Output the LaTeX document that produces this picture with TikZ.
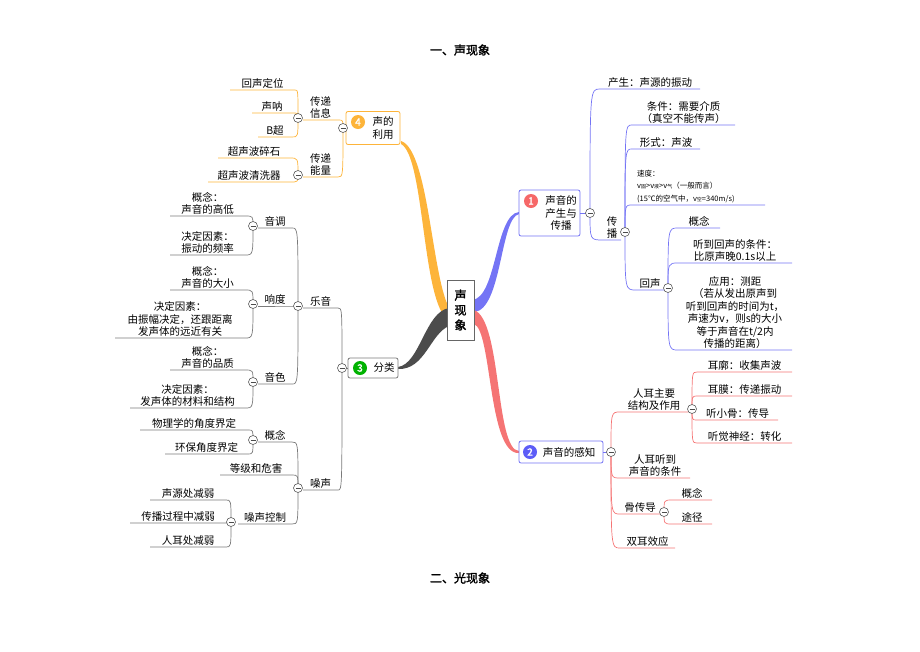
\documentclass[tikz,border=0pt]{standalone}
\usepackage{fontspec}
\setmainfont[AutoFakeBold=2]{Noto Sans CJK SC}
\usetikzlibrary{calc}
\definecolor{cb}{HTML}{7474F5}
\definecolor{cp}{HTML}{F57474}
\definecolor{co}{HTML}{FDB43A}
\definecolor{cg}{HTML}{7A7A7A}
\tikzset{
 lf/.style={inner sep=1.2pt,align=center,font=\fontsize{10.5}{12.5}\selectfont},
 cc/.style={circle,draw=black!65,fill=white,inner sep=0pt,minimum size=9pt,line width=0.6pt,
   path picture={\draw[black!70,line width=0.8pt] ([xshift=2pt]path picture bounding box.west) -- ([xshift=-2pt]path picture bounding box.east);}},
 bx/.style={draw=#1,rounded corners=2pt,fill=white,line width=0.8pt},
 num/.style={circle,fill=#1,text=white,inner sep=0pt,minimum size=14pt,font=\bfseries\fontsize{10}{10}\selectfont},
 bt/.style={align=center,font=\fontsize{10.5}{12.5}\selectfont,inner sep=0pt},
}
\newcommand\RL[7]{%
 \coordinate (#2a) at (#4,#6); \coordinate (#2b) at (#5,#6);
 \node[lf,anchor=south] (#2) at ({(#4+#5)/2},#6) {#7};
 \draw[#1,line width=0.7pt] (#3) .. controls (#3|-#2a) .. (#2a) -- (#2b);}
\newcommand\LL[7]{%
 \coordinate (#2a) at (#4,#6); \coordinate (#2b) at (#5,#6);
 \node[lf,anchor=south] (#2) at ({(#4+#5)/2},#6) {#7};
 \draw[#1,line width=0.7pt] (#3) .. controls (#3|-#2b) .. (#2b) -- (#2a);}
\begin{document}
\begin{tikzpicture}[x=1pt,y=-1pt]
\useasboundingbox (0,0) rectangle (920,651);
\node[font=\bfseries\fontsize{12}{14}\selectfont] (t1) at (460,50) {一、声现象};
\node[font=\bfseries\fontsize{12}{14}\selectfont] (t2) at (460,578) {二、光现象};
% thick main branches
\fill[cb] (472,300) .. controls (497,298) and (495,214) .. (519,212) -- (519,214) .. controls (500,218) and (502,310) .. (474,312) -- cycle;
\fill[cp] (474,310) .. controls (502,320) and (495,450) .. (519,451) -- (519,453) .. controls (488,455) and (492,330) .. (474,324) -- cycle;
\fill[co] (452,312) .. controls (432,290) and (430,150) .. (401,141) -- (401,144) .. controls (424,156) and (422,295) .. (446,318) -- cycle;
\fill[black!70] (449,308) .. controls (425,312) and (420,364) .. (398,367) -- (398,369) .. controls (425,370) and (430,334) .. (449,326) -- cycle;
\node[draw=black!60,fill=white,minimum width=27pt,minimum height=60pt,align=center,font=\bfseries\fontsize{12}{15}\selectfont] (C) at (460.5,310) {声\\现\\象};
% boxes
\node[bx=cb,minimum width=61pt,minimum height=46pt] (B1) at (549.5,213) {};
\node[bt] (B1t) at (561,213) {声音的\\产生与\\传播};
\node[num=cp!90!red] (n1) at (531,201) {1};
\node[bx=cb,minimum width=84pt,minimum height=22pt] (B2) at (561,452) {};
\node[bt] (B2t) at (569,452) {声音的感知};
\node[num=cb!80!blue] (n2) at (530,452) {2};
\node[bx=co,minimum width=54pt,minimum height=33pt] (B4) at (373,128) {};
\node[bt] (B4t) at (383,128) {声的\\利用};
\node[num=co] (n4) at (358,122) {4};
\node[bx=cg,minimum width=50pt,minimum height=20pt] (B3) at (373,368) {};
\node[bt] (B3t) at (384,368) {分类};
\node[num=green!70!black] (n3) at (360,368) {3};
% collapse points
\coordinate (c1) at (590,213);
\coordinate (c11) at (625,232);
\coordinate (c12) at (668,288);
\coordinate (c2) at (611,452);
\coordinate (c21) at (692,409);
\coordinate (c22) at (664,512);
\coordinate (c4) at (343,128);
\coordinate (c41) at (298,118);
\coordinate (c42) at (298,175);
\coordinate (c3) at (342,368);
\coordinate (c31) at (298,306);
\coordinate (c311) at (253,226);
\coordinate (c312) at (253,304);
\coordinate (c313) at (253,382);
\coordinate (c32) at (298,488);
\coordinate (c321) at (253,440);
\coordinate (c322) at (231,522);
\draw[cb,line width=0.7pt] (B1) -- (c1);
\draw[cb,line width=0.7pt] (B2) -- (c2);
\draw[co,line width=0.7pt] (B4) -- (c4);
\draw[cg,line width=0.7pt] (B3) -- (c3);
% branch 1
\RL{cb}{p1}{c1}{600}{700}{89}{产生：声源的振动}
\RL{cb}{p2}{c1}{603}{621}{240}{传\\播}
\RL{cb}{p3}{c11}{632}{735}{125}{条件：需要介质\\（真空不能传声）}
\RL{cb}{p4}{c11}{632}{700}{149}{形式：声波}
\coordinate (p5a) at (632,205); \coordinate (p5b) at (765,205);
\node[anchor=south west,align=left,inner sep=1pt,font=\fontsize{7.5}{12.5}\selectfont] (p5) at (636,204) {速度：\\v{\tiny 固}>v{\tiny 液}>v{\tiny 气}（一般而言）\\(15℃的空气中，v{\tiny 空}=340m/s)};
\draw[cb,line width=0.7pt] (c11) .. controls (c11|-p5a) .. (p5a) -- (p5b);
\RL{cb}{p6}{c11}{636}{664}{290}{回声}
\RL{cb}{p7}{c12}{678}{720}{228}{概念}
\RL{cb}{p8}{c12}{678}{792}{263}{听到回声的条件：\\比原声晚0.1s以上}
\RL{cb}{p9}{c12}{678}{792}{350}{应用：测距\\（若从发出原声到\\听到回声的时间为t，\\声速为v，则s的大小\\等于声音在t/2内\\传播的距离）}
% branch 2
\RL{cp}{q1}{c2}{620}{688}{412}{人耳主要\\结构及作用}
\RL{cp}{q2}{c21}{697}{792}{372}{耳廓：收集声波}
\RL{cp}{q3}{c21}{697}{792}{396}{耳膜：传递振动}
\RL{cp}{q4}{c21}{697}{778}{420}{听小骨：传导}
\RL{cp}{q5}{c21}{697}{792}{443}{听觉神经：转化}
\RL{cp}{q6}{c2}{620}{690}{478}{人耳听到\\声音的条件}
\RL{cp}{q7}{c2}{620}{660}{514}{骨传导}
\RL{cp}{q8}{c22}{672}{712}{500}{概念}
\RL{cp}{q9}{c22}{672}{712}{524}{途径}
\RL{cp}{q10}{c2}{620}{675}{548}{双耳效应}
% branch 4
\LL{co}{u1}{c4}{303}{338}{120}{传递\\信息}
\LL{co}{u2}{c4}{303}{338}{177}{传递\\能量}
\LL{co}{u3}{c41}{230}{295}{90}{回声定位}
\LL{co}{u4}{c41}{252}{292}{113}{声呐}
\LL{co}{u5}{c41}{258}{292}{137}{B超}
\LL{co}{u6}{c42}{218}{290}{158}{超声波碎石}
\LL{co}{u7}{c42}{208}{290}{182}{超声波清洗器}
% branch 3
\LL{cg}{v1}{c3}{303}{338}{308}{乐音}
\LL{cg}{v2}{c3}{303}{338}{490}{噪声}
\LL{cg}{v3}{c31}{258}{292}{228}{音调}
\LL{cg}{v4}{c31}{258}{292}{306}{响度}
\LL{cg}{v5}{c31}{258}{292}{384}{音色}
\LL{cg}{v6}{c311}{170}{245}{216}{概念：\\声音的高低}
\LL{cg}{v7}{c311}{170}{245}{255}{决定因素：\\振动的频率}
\LL{cg}{v8}{c312}{170}{245}{290}{概念：\\声音的大小}
\LL{cg}{v9}{c312}{115}{245}{338}{决定因素：\\由振幅决定，还跟距离\\发声体的远近有关}
\LL{cg}{v10}{c313}{170}{245}{370}{概念：\\声音的品质}
\LL{cg}{v11}{c313}{130}{245}{408}{决定因素：\\发声体的材料和结构}
\LL{cg}{v12}{c32}{258}{292}{442}{概念}
\LL{cg}{v13}{c32}{220}{292}{475}{等级和危害}
\LL{cg}{v14}{c32}{238}{292}{524}{噪声控制}
\LL{cg}{v15}{c321}{140}{248}{430}{物理学的角度界定}
\LL{cg}{v16}{c321}{165}{248}{454}{环保角度界定}
\LL{cg}{v17}{c322}{150}{226}{500}{声源处减弱}
\LL{cg}{v18}{c322}{130}{226}{523}{传播过程中减弱}
\LL{cg}{v19}{c322}{150}{226}{547}{人耳处减弱}
% collapse circles
\foreach \c in {c1,c11,c12,c2,c21,c22,c4,c41,c42,c3,c31,c311,c312,c313,c32,c321,c322}
  \node[cc] at (\c) {};
\end{tikzpicture}
\end{document}
